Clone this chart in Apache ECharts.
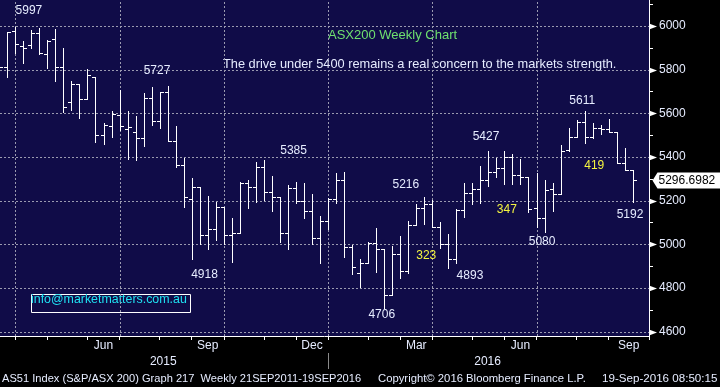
<!DOCTYPE html>
<html><head><meta charset="utf-8">
<script src="https://cdn.jsdelivr.net/npm/echarts@6/dist/echarts.min.js"></script>
<style>html,body{margin:0;padding:0;background:#000}#c{width:720px;height:387px}</style>
</head><body><div id="c"></div>
<script>
// Weekly OHLC of S&P/ASX 200 (AS51), weeks indexed from the first visible bar (mid-Mar 2015) to 19-Sep-2016
const opens  = [5844,5811,5977,5907,5913,5967,5872,5939,5811,5652,5733,5664,5765,5499,5543,5591,5527,5515,5486,5669,
                5564,5696,5473,5362,5209,5263,5041,5069,5170,5041,5051,5280,5264,5353,5238,5215,5051,5257,5200,5153,
                5028,5107,5206,5293,4989,4867,4916,5005,4980,4768,4956,4879,5090,5168,5183,5081,5000,4934,5157,5234,
                5252,5295,5331,5348,5401,5316,5310,5165,5119,5252,5229,5432,5493,5559,5493,5532,5527,5513,5373,5341];
const highs  = [5882,5974,5997,5931,5982,5990,5936,5985,5898,5748,5733,5802,5765,5554,5611,5707,5611,5589,5695,5722,
                5699,5727,5542,5394,5303,5264,5223,5195,5170,5121,5284,5295,5376,5385,5313,5215,5272,5286,5282,5231,
                5130,5211,5328,5331,4997,4933,5011,5075,4980,4992,5038,5108,5185,5216,5203,5104,5047,5161,5280,5282,
                5359,5427,5397,5427,5414,5390,5310,5328,5295,5280,5455,5532,5570,5611,5554,5547,5573,5513,5440,5341];
const lows   = [5753,5765,5878,5829,5901,5870,5809,5750,5608,5615,5577,5664,5470,5458,5493,5524,5392,5386,5450,5548,
                5534,5473,5353,5172,4932,5000,4977,5020,5002,4918,5051,5168,5195,5203,5153,5011,4980,5188,5121,5002,
                4913,5072,5191,4943,4864,4806,4913,4875,4706,4768,4845,4870,5090,5092,5081,4982,4893,4916,5127,5183,
                5188,5267,5307,5275,5275,5275,5150,5081,5055,5153,5229,5429,5493,5466,5488,5504,5513,5371,5341,5195];
const closes = [5811,5971,5918,5898,5967,5875,5930,5811,5630,5733,5664,5774,5499,5545,5598,5543,5537,5488,5669,5564,
                5696,5473,5362,5217,5263,5041,5069,5170,5041,5051,5280,5264,5353,5238,5215,5051,5257,5200,5153,5028,
                5107,5206,5293,4989,4896,4916,5005,4980,4768,4956,4879,5090,5165,5183,5081,5000,4934,5157,5234,5252,
                5295,5331,5348,5401,5316,5310,5162,5119,5249,5229,5429,5493,5559,5493,5532,5527,5513,5373,5341,5296.6982];

// x-axis ticks (week index of first week of each month), quarter gridlines, labels
const monthTickIdx   = [2,6,11,15,20,24,28,33,37,41,46,50,54,59,63,67,72,76,81];
const quarterGridIdx = [2,15,28,41,54,67];
const monthLabels    = ['Jun','Sep','Dec','Mar','Jun','Sep'];
const monthLabelIdx  = [13,26,39,52,65,78.5];
const yearLabels     = ['2015','2016'];
const yearLabelIdx   = [20.45,60.9];
const yearSepIdx     = [41];
const yLabelValues   = [4600,4800,5000,5200,5400,5600,5800,6000];
const yTickValues    = [4600,4700,4800,4900,5000,5100,5200,5300,5400,5500,5600,5700,5800,5900,6000,6100];

// annotations: [text, week index, value, colour key]
const annotations = [
  ['5997',3.7,6069,'w'],['5727',19.67,5794,'w'],['4918',25.6,4862,'w'],['5385',36.7,5427,'w'],
  ['5216',50.7,5272,'w'],['4706',47.7,4676,'w'],['323',53.25,4947,'y'],['4893',58.7,4855,'w'],
  ['5427',60.7,5493,'w'],['347',63.3,5157,'y'],['5080',67.7,5014,'w'],['5611',72.7,5660,'w'],
  ['419',74.2,5362,'y'],['5192',78.66,5134,'w']
];

const X_MIN = 0.09, X_MAX = 81.03, Y_MIN = 4580, Y_MAX = 6119;
const FONT = '"Liberation Sans", Arial, sans-serif';
const TXT = '#e6ecff';

const ohlc = opens.map((o,i)=>[i,o,closes[i],lows[i],highs[i]]);

const chart = echarts.init(document.getElementById('c'), null, {renderer:'canvas'});

const gridStyle = {stroke:'#9a9ab0', lineWidth:1, lineDash:[2,2]};

chart.setOption({
  backgroundColor:'#000',
  animation:false,
  grid:{left:0,right:71,top:0,bottom:51,show:true,backgroundColor:'#100c48',borderWidth:0},
  xAxis:[{
    type:'value',min:X_MIN,max:X_MAX,position:'bottom',
    axisLine:{show:true,onZero:false,lineStyle:{color:'#fff',width:1}},
    axisTick:{show:true,length:4,customValues:monthTickIdx,lineStyle:{color:'#fff'}},
    axisLabel:{show:true,customValues:monthLabelIdx,margin:4,color:TXT,fontSize:12,fontFamily:FONT,lineHeight:12,
      formatter:function(v){const k=monthLabelIdx.indexOf(v);return k>=0?monthLabels[k]:'';}},
    splitLine:{show:false}
  },{
    type:'value',min:X_MIN,max:X_MAX,position:'bottom',offset:17,
    axisLine:{show:false},
    axisTick:{show:true,length:16,customValues:yearSepIdx,lineStyle:{color:'#8a8a8a'}},
    axisLabel:{show:true,customValues:yearLabelIdx,margin:3,color:TXT,fontSize:12,fontFamily:FONT,lineHeight:12,
      formatter:function(v){const k=yearLabelIdx.indexOf(v);return k>=0?yearLabels[k]:'';}},
    splitLine:{show:false}
  }],
  yAxis:{
    type:'value',min:Y_MIN,max:Y_MAX,position:'right',
    axisLine:{show:true,lineStyle:{color:'#fff',width:1}},
    axisTick:{show:true,length:4,customValues:yTickValues,lineStyle:{color:'#fff'}},
    axisLabel:{show:true,customValues:yLabelValues,margin:10,color:TXT,fontSize:12,fontFamily:FONT,
      formatter:function(v){return String(v);}},
    splitLine:{show:false}
  },
  series:[
    { // horizontal dashed gridlines
      type:'custom',z:1,silent:true,clip:true,
      data:yLabelValues.map(v=>[v]),encode:{y:0},
      renderItem:function(p,api){
        const a=api.coord([X_MIN,api.value(0)]), b=api.coord([X_MAX,api.value(0)]);
        const y=Math.round(a[1])+0.5;
        return {type:'line',shape:{x1:a[0],y1:y,x2:b[0],y2:y},style:gridStyle};
      }
    },
    { // vertical dashed gridlines at quarter starts
      type:'custom',z:1,silent:true,clip:true,
      data:quarterGridIdx.map(v=>[v]),encode:{x:0},
      renderItem:function(p,api){
        const a=api.coord([api.value(0),Y_MIN]), b=api.coord([api.value(0),Y_MAX]);
        const x=Math.round(a[0])+0.5;
        return {type:'line',shape:{x1:x,y1:a[1],x2:x,y2:b[1]},style:gridStyle};
      }
    },
    { // OHLC bars
      type:'custom',z:3,silent:true,clip:true,
      data:ohlc,encode:{x:0,y:[1,2,3,4]},
      renderItem:function(p,api){
        const i=api.value(0);
        const o=api.coord([i,api.value(1)]), c=api.coord([i,api.value(2)]);
        const l=api.coord([i,api.value(3)]), h=api.coord([i,api.value(4)]);
        const x=Math.round(o[0])+0.5, st={stroke:'#fff',lineWidth:1};
        const yo=Math.round(o[1])+0.5, yc=Math.round(c[1])+0.5;
        return {type:'group',children:[
          {type:'line',shape:{x1:x,y1:Math.round(h[1]),x2:x,y2:Math.round(l[1])+1},style:st},
          {type:'line',shape:{x1:x-3.5,y1:yo,x2:x,y2:yo},style:st},
          {type:'line',shape:{x1:x,y1:yc,x2:x+3.5,y2:yc},style:st}
        ]};
      }
    },
    { // right axis major tick arrows
      type:'custom',z:4,silent:true,clip:false,
      data:yLabelValues.map(v=>[X_MAX,v]),encode:{x:0,y:1},
      renderItem:function(p,api){
        const q=api.coord([api.value(0),api.value(1)]);
        const x=Math.round(q[0]), y=Math.round(q[1])+0.5;
        return {type:'polygon',shape:{points:[[x,y-3],[x+8,y],[x,y+3]]},style:{fill:'#fff'}};
      }
    },
    { // last price tag
      type:'custom',z:5,silent:true,clip:false,
      data:[[X_MAX,closes[closes.length-1]]],encode:{x:0,y:1},
      renderItem:function(p,api){
        const q=api.coord([api.value(0),api.value(1)]);
        const x=Math.round(q[0])+3.5, y=Math.round(q[1])+0.5;
        return {type:'group',children:[
          {type:'polygon',shape:{points:[[x,y],[x+5,y-8],[720,y-8],[720,y+8],[x+5,y+8]]},style:{fill:'#fff'}},
          {type:'text',x:x+6,y:y,style:{text:api.value(1).toFixed(4),fill:'#000',font:'12px '+FONT,align:'left',verticalAlign:'middle'}}
        ]};
      }
    },
    { // annotations
      type:'custom',z:6,silent:true,clip:false,
      data:annotations.map((a,k)=>[a[1],a[2],k]),encode:{x:0,y:1},
      renderItem:function(p,api){
        const q=api.coord([api.value(0),api.value(1)]);
        const a=annotations[api.value(2)];
        return {type:'text',x:q[0],y:q[1],style:{text:a[0],fill:a[3]==='y'?'#f4f440':TXT,font:'12px '+FONT,align:'center',verticalAlign:'middle'}};
      }
    }
  ],
  graphic:[
    {type:'text',left:328,top:29,style:{text:'ASX200 Weekly Chart',fill:'#6fe06f',font:'13px '+FONT}},
    {type:'text',left:223,top:58,style:{text:'The drive under 5400 remains a real concern to the markets strength.',fill:TXT,font:'12.8px '+FONT}},
    {type:'rect',left:29,top:292,shape:{width:159,height:18},style:{fill:'none',stroke:'#fff',lineWidth:1}},
    {type:'text',left:31,top:294,style:{text:'info@marketmatters.com.au',fill:'#1fe2f2',font:'12.4px '+FONT}},
    {type:'text',left:2,top:373,style:{text:'AS51 Index (S&P/ASX 200) Graph 217  Weekly 21SEP2011-19SEP2016',fill:TXT,font:'11.1px '+FONT}},
    {type:'text',left:378,top:373,style:{text:'Copyright\u00a9 2016 Bloomberg Finance L.P.',fill:TXT,font:'11.3px '+FONT}},
    {type:'text',left:602,top:373,style:{text:'19-Sep-2016 08:50:15',fill:TXT,font:'11.6px '+FONT}}
  ]
});
</script></body></html>
